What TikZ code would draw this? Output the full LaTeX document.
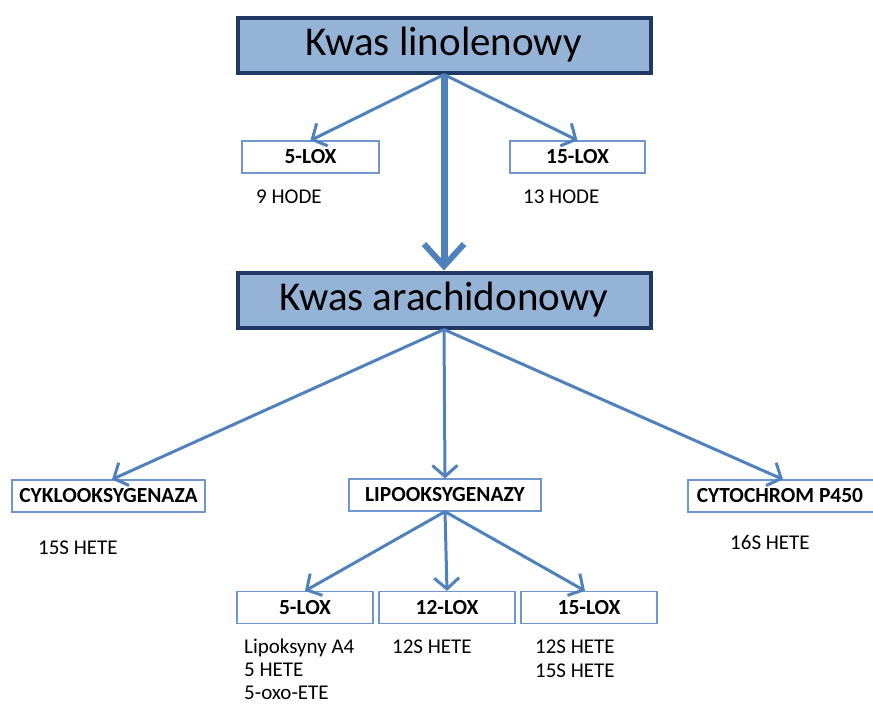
\documentclass[tikz,border=0pt]{standalone}
\usepackage{fontspec}
\setmainfont{Carlito}
\usetikzlibrary{arrows.meta}
\definecolor{kwasfill}{HTML}{95B3D7}
\definecolor{kwasline}{HTML}{1F3864}
\definecolor{strz}{HTML}{4F81BD}
\definecolor{ramka}{HTML}{6F97CD}
\tikzset{
  kwas/.style={draw=kwasline, line width=4pt, fill=kwasfill, minimum width=413pt, minimum height=55pt, inner sep=0pt, font=\fontsize{41}{46}\selectfont},
  enzym/.style={draw=ramka, line width=1.2pt, minimum height=32pt, inner sep=0pt, font=\fontsize{21.5}{25}\bfseries\selectfont},
  produkt/.style={anchor=north west, inner sep=0pt, align=left, font=\fontsize{21}{24}\selectfont},
  strzalka/.style={draw=strz, line width=3pt, -{Straight Barb[length=11pt,width=25pt,line width=3pt]}},
  duza/.style={draw=strz, line width=7pt, -{Straight Barb[length=22pt,width=40pt,line width=6pt]}}
}
\begin{document}
\begin{tikzpicture}[x=1pt,y=-1pt]
            \useasboundingbox (0,0) rectangle (873,705);
            \node [kwas] (lin)  at (444,45) {Kwas linolenowy};
            \node [kwas] (ara)  at (444,300) {Kwas arachidonowy};
            \node [enzym, minimum width=137pt] (lox5a)  at (310.5,157) {5-LOX};
            \node [enzym, minimum width=135pt] (lox15a) at (577.5,157) {15-LOX};
            \node [produkt] (hode9)  at (256,190) {9 HODE};
            \node [produkt] (hode13) at (523,190) {13 HODE};
            \node [enzym, minimum width=193pt] (cox)  at (108.5,496) {CYKLOOKSYGENAZA};
            \node [enzym, minimum width=192pt] (lox)  at (445,495) {LIPOOKSYGENAZY};
            \node [enzym, minimum width=190pt] (cyp)  at (783,496) {\hspace*{-6pt}CYTOCHROM P450};
            \node [produkt] (cox15) at (38,541) {15S HETE};
            \node [produkt] (cyp16) at (730,535) {16S HETE};
            \node [enzym, minimum width=136pt] (lox5)  at (305,607.5) {5-LOX};
            \node [enzym, minimum width=136pt] (lox12) at (447,607.5) {12-LOX};
            \node [enzym, minimum width=136pt] (lox15) at (589,607.5) {15-LOX};
            \node [produkt, font=\fontsize{21}{23}\selectfont] (p5)  at (244,639) {Lipoksyny A4\\5 HETE\\5-oxo-ETE};
            \node [produkt] (p12) at (392,640) {12S HETE};
            \node [produkt] (p15) at (535,640) {12S HETE\\15S HETE};
            % strzalki
            \draw[strzalka] (lin.south) -- (lox5a.north);
            \draw[strzalka] (lin.south) -- (lox15a.north);
            \draw[duza] (lin.south) -- (ara.north);
            \draw[strzalka] (ara.south) -- (cox.north -| 112,0);
            \draw[strzalka] (ara.south) -- (lox.north);
            \draw[strzalka] (ara.south) -- (cyp.north);
            \draw[strzalka] (lox.south) -- (lox5.north);
            \draw[strzalka] (lox.south) -- (lox12.north);
            \draw[strzalka] (lox.south) -- ([xshift=-4pt]lox15.north);
        \end{tikzpicture}
\end{document}
